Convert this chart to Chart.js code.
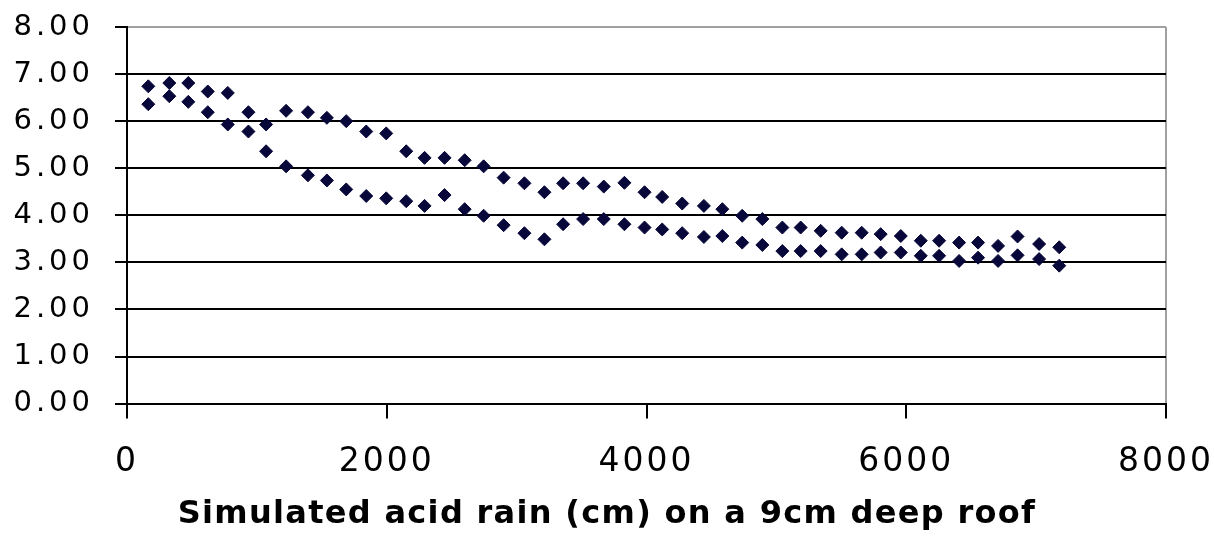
<!DOCTYPE html>
<html>
<head>
<meta charset="utf-8">
<script src="https://cdn.jsdelivr.net/npm/chart.js@4.4.0/dist/chart.umd.min.js"></script>
<style>
  html, body { margin: 0; padding: 0; background: #ffffff; }
  #wrap { width: 1214px; height: 538px; position: relative; }
</style>
</head>
<body>
<div id="wrap"><canvas id="c" width="1214" height="538"></canvas></div>
<script>
// Simulated acid rain (cm) — x positions
const rainCm = [164, 326, 472, 622, 776, 935, 1071, 1225, 1393, 1539,
  1688, 1842, 1996, 2150, 2291, 2445, 2600, 2746, 2900, 3060,
  3214, 3358, 3512, 3671, 3830, 3985, 4121, 4275, 4442, 4584,
  4737, 4892, 5046, 5187, 5341, 5503, 5657, 5803, 5958, 6112,
  6253, 6407, 6553, 6707, 6857, 7023, 7178];

const upperSeries = [6.74, 6.81, 6.81, 6.63, 6.60, 6.19, 5.93, 6.22, 6.19, 6.07,
  6.00, 5.78, 5.74, 5.36, 5.22, 5.22, 5.17, 5.04, 4.80, 4.68,
  4.49, 4.68, 4.68, 4.61, 4.69, 4.49, 4.39, 4.25, 4.20, 4.13,
  3.99, 3.92, 3.74, 3.74, 3.67, 3.63, 3.63, 3.60, 3.56, 3.46,
  3.46, 3.42, 3.42, 3.35, 3.55, 3.39, 3.32];

const lowerSeries = [6.36, 6.53, 6.41, 6.19, 5.93, 5.78, 5.36, 5.04, 4.85, 4.74,
  4.55, 4.41, 4.36, 4.30, 4.20, 4.43, 4.13, 3.99, 3.79, 3.62,
  3.49, 3.81, 3.92, 3.92, 3.81, 3.74, 3.70, 3.62, 3.54, 3.56,
  3.42, 3.37, 3.24, 3.24, 3.24, 3.17, 3.17, 3.21, 3.21, 3.14,
  3.14, 3.03, 3.10, 3.03, 3.15, 3.07, 2.93];

const xTitle = 'Simulated acid rain (cm) on a 9cm deep roof';
const xRange = [0, 8000];
const xStep = 2000;
const yRange = [0, 8];
const yStep = 1;

const toPoints = (xs, ys) => xs.map((x, i) => ({ x: x, y: ys[i] }));

const markerColor = '#07073a';

// letter spacing for text (wider fonts in the original)
const spacingPlugin = {
  id: 'textSpacing',
  beforeDraw(chart) {
    const wrap = (obj, method, ls) => {
      if (!obj || obj['_ls_' + method]) return;
      const orig = obj[method];
      obj[method] = function (...args) {
        const c = this.ctx;
        c.save();
        c.letterSpacing = ls;
        orig.apply(this, args);
        c.restore();
      };
      obj['_ls_' + method] = true;
    };
    wrap(chart.scales.y, 'drawLabels', '4px');
    wrap(chart.scales.x, 'drawLabels', '3px');
    wrap(chart.titleBlock, 'draw', '1.3px');
  }
};

new Chart(document.getElementById('c'), {
  type: 'scatter',
  data: {
    datasets: [
      {
        label: 'A',
        data: toPoints(rainCm, upperSeries),
        pointStyle: 'rectRot',
        pointRadius: 6.5,
        pointBorderWidth: 1,
        backgroundColor: markerColor,
        borderColor: markerColor
      },
      {
        label: 'B',
        data: toPoints(rainCm, lowerSeries),
        pointStyle: 'rectRot',
        pointRadius: 6.5,
        pointBorderWidth: 1,
        backgroundColor: markerColor,
        borderColor: markerColor
      }
    ]
  },
  options: {
    responsive: false,
    animation: false,
    devicePixelRatio: 1,
    layout: { padding: { top: 27, right: 0, left: 0, bottom: 0 } },
    plugins: {
      legend: { display: false },
      tooltip: { enabled: false },
      title: {
        display: true,
        position: 'bottom',
        text: xTitle,
        color: '#000000',
        font: { family: 'DejaVu Sans', size: 32, weight: 'bold', lineHeight: 1.2 },
        padding: { top: 3, bottom: 4 }
      }
    },
    scales: {
      x: {
        type: 'linear',
        min: xRange[0],
        max: xRange[1],
        afterFit(scale) {
          scale.height = 89;
          scale.paddingLeft = 0;
          scale.paddingRight = 48;
        },
        ticks: {
          stepSize: xStep,
          color: '#000000',
          font: { family: 'DejaVu Sans', size: 33 },
          padding: 24,
          maxRotation: 0,
          callback: (v) => String(v)
        },
        grid: {
          drawOnChartArea: true,
          color: (ctx) => (ctx.tick && ctx.tick.value === xRange[1]) ? '#a0a0a0' : 'rgba(0,0,0,0)',
          lineWidth: 2,
          tickColor: '#000000',
          tickLength: 15
        },
        border: { display: true, color: '#000000', width: 2 }
      },
      y: {
        min: yRange[0],
        max: yRange[1],
        afterFit(scale) {
          scale.width = 127;
          scale.paddingTop = 0;
          scale.paddingBottom = 0;
        },
        ticks: {
          stepSize: yStep,
          color: '#000000',
          font: { family: 'DejaVu Sans', size: 29 },
          padding: 21,
          callback: (v) => Number(v).toFixed(2)
        },
        grid: {
          color: (ctx) => (ctx.tick && ctx.tick.value === yRange[1]) ? '#a0a0a0' : '#000000',
          lineWidth: 2,
          tickColor: '#000000',
          tickLength: 12
        },
        border: { display: true, color: '#000000', width: 2 }
      }
    }
  },
  plugins: [spacingPlugin]
});
</script>
</body>
</html>
